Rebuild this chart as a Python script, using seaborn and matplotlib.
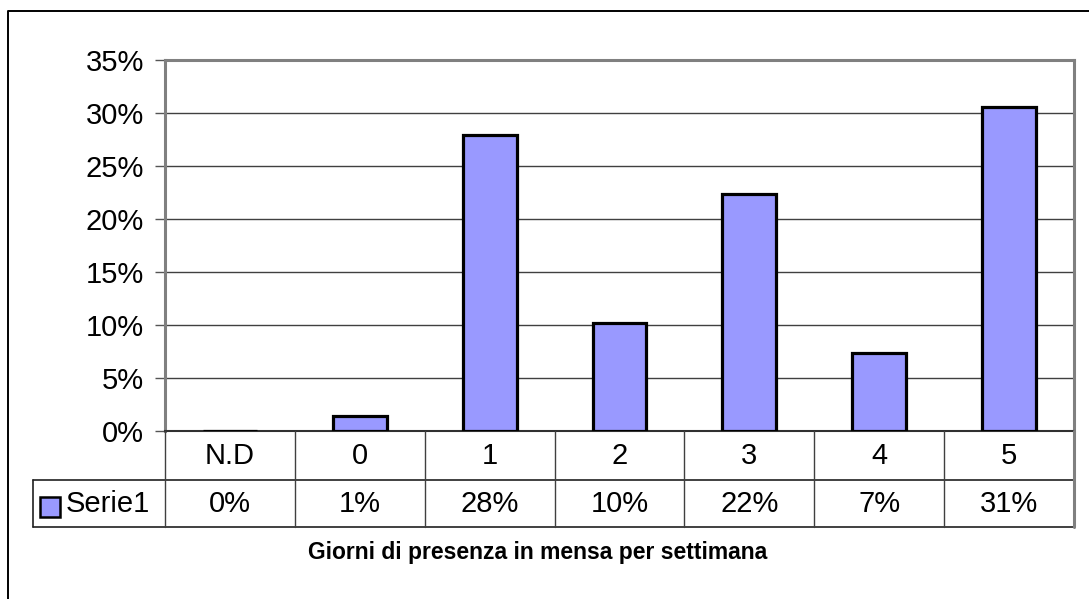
import matplotlib
matplotlib.use("Agg")
import matplotlib.pyplot as plt
import matplotlib.transforms as mtransforms
from matplotlib.lines import Line2D
from matplotlib.patches import Rectangle
from matplotlib import font_manager
import seaborn as sns
import pandas as pd

# ---- data ----
categories = ["N.D", "0", "1", "2", "3", "4", "5"]
values = [0.0, 1.4, 27.9, 10.2, 22.4, 7.4, 30.6]   # percent
table_labels = ["0%", "1%", "28%", "10%", "22%", "7%", "31%"]
series_name = "Serie1"
y_ticks = [0, 5, 10, 15, 20, 25, 30, 35]
title = "Giorni di presenza in mensa per settimana"

sns.set_theme(style="white")
plt.rcParams["font.family"] = ["Liberation Sans", "DejaVu Sans"]

names = {f.name for f in font_manager.fontManager.ttflist}
narrow = "Liberation Sans Narrow" in names

W, H = 1089, 599
fig = plt.figure(figsize=(W / 100, H / 100), dpi=100)
fig.patch.set_facecolor("white")

def fx(x):
    return x / W

def fy(y):
    return 1 - y / H

FS = 21
left, right, top, bottom = 165, 1074, 60, 431
ax = fig.add_axes([fx(left), fy(bottom), (right - left) / W, (bottom - top) / H])

df = pd.DataFrame({"cat": categories, "val": values})
sns.barplot(data=df, x="cat", y="val", order=categories, color="#9999FF",
            saturation=1, width=0.415, edgecolor="black", linewidth=2.3, ax=ax, zorder=3)

ax.set_xlim(-0.5, len(categories) - 0.5)
ax.set_ylim(0, 35)
ax.set_yticks(y_ticks)
ax.set_yticklabels([f"{t}%" for t in y_ticks], fontsize=FS)
ax.set_xticks([])
ax.set_xlabel("")
ax.set_ylabel("")
ax.tick_params(axis="y", which="both", length=7, width=1, color="#555555",
               left=True, pad=8, labelcolor="black")
ax.yaxis.grid(True, color="#404040", linewidth=1, zorder=0)
ax.set_axisbelow(True)
for s in ["top", "right", "left"]:
    ax.spines[s].set_color("#808080")
    ax.spines[s].set_linewidth(2.2)
ax.spines["bottom"].set_color("#303030")
ax.spines["bottom"].set_linewidth(1.5)
ax.set_facecolor("white")

# ---- data table ----
row1_top, row1_bot, row2_bot = 431, 480, 527
leg_left = 33
bt = mtransforms.blended_transform_factory(ax.transData, fig.transFigure)

lc = "#202020"
fig.add_artist(Line2D([fx(leg_left), fx(right)], [fy(row1_bot), fy(row1_bot)], color=lc, lw=1.2))
fig.add_artist(Line2D([fx(leg_left), fx(right)], [fy(row2_bot), fy(row2_bot)], color=lc, lw=1.2))
fig.add_artist(Line2D([fx(leg_left), fx(leg_left)], [fy(row1_bot), fy(row2_bot)], color=lc, lw=1.2))
n = len(categories)
for k in range(n + 1):
    xk = -0.5 + k
    col = "#808080" if k == n else "#404040"
    lw = 2.2 if k == n else 1.0
    fig.add_artist(Line2D([xk, xk], [fy(row1_top), fy(row2_bot)], color=col, lw=lw, transform=bt))

for i, (c, lab) in enumerate(zip(categories, table_labels)):
    fig.text(i, fy(455.5), c, transform=bt, ha="center", va="center", fontsize=FS, color="black")
    fig.text(i, fy(504), lab, transform=bt, ha="center", va="center", fontsize=FS, color="black")

# legend key + series name
fig.add_artist(Rectangle((fx(40), fy(517)), 20 / W, 20 / H, transform=fig.transFigure,
                         facecolor="#9999FF", edgecolor="black", lw=1.8))
fig.text(fx(66), fy(504), series_name, ha="left", va="center", fontsize=FS, color="black")

# axis title
if narrow:
    fig.text(fx(538), fy(553), title, ha="center", va="center", fontsize=18.5,
             fontweight="bold", color="black", family=["Liberation Sans Narrow", "DejaVu Sans"])
else:
    fig.text(fx(538), fy(553), title, ha="center", va="center", fontsize=16.5,
             fontweight="bold", color="black")

# outer chart frame (top and left visible)
fig.add_artist(Line2D([fx(8), fx(8), fx(W + 5)], [fy(H + 5), fy(11), fy(11)],
                      color="black", lw=1.4))

fig.savefig("out.png", dpi=100, facecolor="white")
